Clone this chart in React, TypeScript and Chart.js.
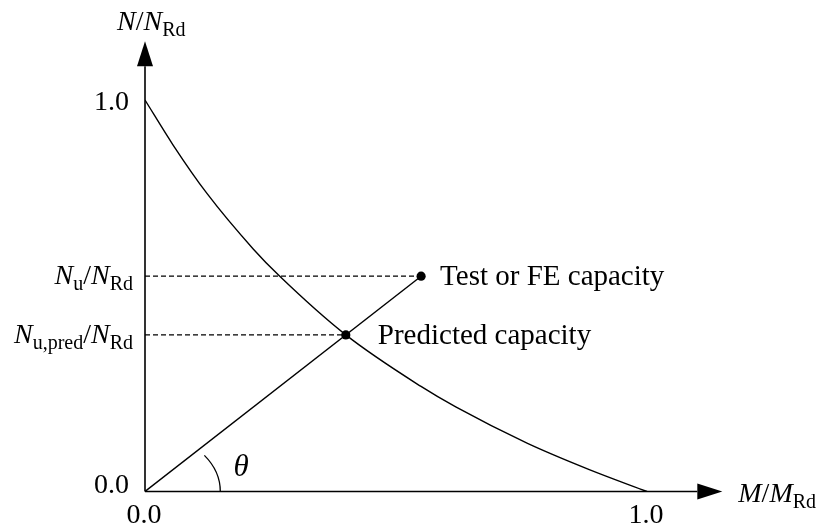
import React, { useEffect, useRef } from "react";
import { Chart, registerables } from "chart.js";

Chart.register(...registerables);

// Interaction curve N/N_Rd versus M/M_Rd
const curveM = [0, 0.056, 0.123, 0.216, 0.269, 0.4, 0.549, 0.619, 0.762, 0.885, 1.0];
const curveN = [1.0, 0.885, 0.762, 0.619, 0.549, 0.4, 0.269, 0.216, 0.123, 0.056, 0.0];

// Test / FE capacity and predicted capacity on the same load path
const testPoint = { m: 0.55, n: 0.55 };
const predPoint = { m: 0.4, n: 0.4 };

// Axis ticks
const tickValues = [0, 1];
const tickLabels = ["0.0", "1.0"];

// Axis extent (arrow tips) and angle marker radius
const axisMax = 1.15;
const thetaRadius = 0.15;

const SERIF = '"Liberation Serif", "Times New Roman", serif';

type Seg = { t: string; it?: boolean; sub?: boolean };

function segFont(s: Seg) {
  return s.sub ? `20px ${SERIF}` : `${s.it ? "italic " : ""}28px ${SERIF}`;
}

function drawRich(ctx: CanvasRenderingContext2D, segs: Seg[], x: number, y: number, align: "left" | "right") {
  let total = 0;
  for (const s of segs) {
    ctx.font = segFont(s);
    total += ctx.measureText(s.t).width;
  }
  let cx = align === "left" ? x : x - total;
  ctx.textAlign = "left";
  ctx.textBaseline = "alphabetic";
  for (const s of segs) {
    ctx.font = segFont(s);
    ctx.fillText(s.t, cx, s.sub ? y + 6 : y);
    cx += ctx.measureText(s.t).width;
  }
}

const diagramPlugin = {
  id: "diagram",
  beforeDatasetsDraw(chart: any) {
    const ctx: CanvasRenderingContext2D = chart.ctx;
    const xs = chart.scales.x;
    const ys = chart.scales.y;
    const x0 = xs.getPixelForValue(0);
    const y0 = ys.getPixelForValue(0);
    const xTip = xs.getPixelForValue(axisMax);
    const yTip = ys.getPixelForValue(axisMax);
    const len = 25;
    const half = 8;
    ctx.save();
    ctx.strokeStyle = "#000";
    ctx.fillStyle = "#000";
    ctx.lineWidth = 1.6;
    // axes
    ctx.beginPath();
    ctx.moveTo(x0, y0);
    ctx.lineTo(xTip - len, y0);
    ctx.moveTo(x0, y0);
    ctx.lineTo(x0, yTip + len);
    ctx.stroke();
    // arrowheads
    ctx.beginPath();
    ctx.moveTo(xTip, y0);
    ctx.lineTo(xTip - len, y0 - half);
    ctx.lineTo(xTip - len, y0 + half);
    ctx.closePath();
    ctx.fill();
    ctx.beginPath();
    ctx.moveTo(x0, yTip);
    ctx.lineTo(x0 - half, yTip + len);
    ctx.lineTo(x0 + half, yTip + len);
    ctx.closePath();
    ctx.fill();
    // angle marker between M axis and load path
    const rx = xs.getPixelForValue(thetaRadius) - x0;
    const ry = y0 - ys.getPixelForValue(thetaRadius);
    const ang = Math.atan2(predPoint.n * ry, predPoint.m * rx);
    ctx.lineWidth = 1.3;
    ctx.beginPath();
    ctx.ellipse(x0, y0, rx, ry, 0, -ang, 0);
    ctx.stroke();
    ctx.restore();
  },
  afterDraw(chart: any) {
    const ctx: CanvasRenderingContext2D = chart.ctx;
    const xs = chart.scales.x;
    const ys = chart.scales.y;
    const x0 = xs.getPixelForValue(0);
    const y0 = ys.getPixelForValue(0);
    ctx.save();
    ctx.fillStyle = "#000";
    ctx.font = `28px ${SERIF}`;
    // y ticks
    ctx.textAlign = "right";
    ctx.textBaseline = "alphabetic";
    tickValues.forEach((v, i) => {
      const py = ys.getPixelForValue(v);
      ctx.fillText(tickLabels[i], x0 - 16, v === 0 ? py + 1 : py + 10);
    });
    // x ticks
    ctx.textAlign = "center";
    tickValues.forEach((v, i) => {
      const px = xs.getPixelForValue(v);
      ctx.fillText(tickLabels[i], px - 1, y0 + 31);
    });
    // axis titles
    drawRich(ctx, [{ t: "N", it: true }, { t: "/" }, { t: "N", it: true }, { t: "Rd", sub: true }], x0 - 28, 30, "left");
    drawRich(ctx, [{ t: "M", it: true }, { t: "/" }, { t: "M", it: true }, { t: "Rd", sub: true }], xs.getPixelForValue(axisMax) + 16, y0 + 10, "left");
    // capacity level labels
    const yT = ys.getPixelForValue(testPoint.n);
    const yP = ys.getPixelForValue(predPoint.n);
    drawRich(ctx, [{ t: "N", it: true }, { t: "u", sub: true }, { t: "/" }, { t: "N", it: true }, { t: "Rd", sub: true }], x0 - 12, yT + 8, "right");
    drawRich(ctx, [{ t: "N", it: true }, { t: "u,pred", sub: true }, { t: "/" }, { t: "N", it: true }, { t: "Rd", sub: true }], x0 - 12, yP + 8, "right");
    // point annotations
    ctx.font = `29px ${SERIF}`;
    ctx.textAlign = "left";
    ctx.fillText("Test or FE capacity", xs.getPixelForValue(testPoint.m) + 19, yT + 9);
    ctx.fillText("Predicted capacity", xs.getPixelForValue(predPoint.m) + 32, yP + 9);
    // angle symbol
    ctx.font = `italic 31px ${SERIF}`;
    ctx.textAlign = "center";
    ctx.fillText("\u03B8", x0 + 96, y0 - 16);
    ctx.restore();
  },
};

export default function App() {
  const ref = useRef<HTMLCanvasElement | null>(null);

  useEffect(() => {
    if (!ref.current) return;
    const lineStyle = { borderColor: "#000", borderWidth: 1.4, pointRadius: 0, showLine: true, fill: false };
    const chart = new Chart(ref.current, {
      type: "scatter",
      data: {
        datasets: [
          {
            label: "Interaction curve",
            data: curveM.map((m, i) => ({ x: m, y: curveN[i] })),
            ...lineStyle,
            cubicInterpolationMode: "monotone",
          },
          {
            label: "Load path",
            data: [
              { x: 0, y: 0 },
              { x: testPoint.m, y: testPoint.n },
            ],
            ...lineStyle,
          },
          {
            label: "Test level",
            data: [
              { x: 0, y: testPoint.n },
              { x: testPoint.m, y: testPoint.n },
            ],
            ...lineStyle,
            borderWidth: 1.3,
            borderDash: [5, 3],
          },
          {
            label: "Predicted level",
            data: [
              { x: 0, y: predPoint.n },
              { x: predPoint.m, y: predPoint.n },
            ],
            ...lineStyle,
            borderWidth: 1.3,
            borderDash: [5, 3],
          },
          {
            label: "Capacities",
            data: [
              { x: testPoint.m, y: testPoint.n },
              { x: predPoint.m, y: predPoint.n },
            ],
            showLine: false,
            pointRadius: 4.6,
            pointBackgroundColor: "#000",
            pointBorderColor: "#000",
            pointBorderWidth: 0,
          },
        ],
      } as any,
      options: {
        responsive: false,
        animation: false,
        events: [],
        layout: { padding: { left: 145, right: 101.7, top: 41.3, bottom: 39.5 } },
        plugins: { legend: { display: false }, tooltip: { enabled: false } },
        scales: {
          x: { type: "linear", min: 0, max: axisMax, display: false },
          y: { type: "linear", min: 0, max: axisMax, display: false },
        },
      } as any,
      plugins: [diagramPlugin],
    });
    return () => chart.destroy();
  }, []);

  return (
    <div style={{ position: "fixed", left: 0, top: 0, width: 824, height: 531, background: "#fff" }}>
      <canvas ref={ref} width={824} height={531} style={{ display: "block" }} />
    </div>
  );
}
